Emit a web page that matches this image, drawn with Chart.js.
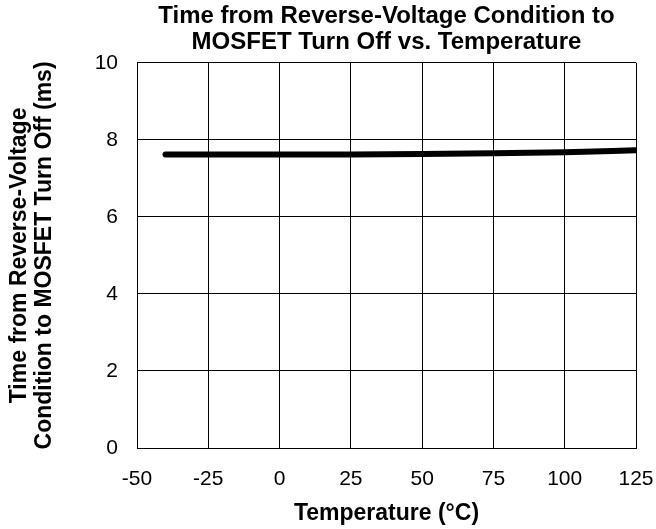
<!DOCTYPE html>
<html>
<head>
<meta charset="utf-8">
<script src="https://cdn.jsdelivr.net/npm/chart.js@4"></script>
<style>
  html, body { margin: 0; padding: 0; background: #fff; }
  #wrap { width: 656px; height: 529px; }
</style>
</head>
<body>
<div id="wrap"><canvas id="chart" width="656" height="529"></canvas></div>
<script>
// Data
const temps = [-40, -25, 0, 25, 50, 75, 100, 125];
const offTimes = [7.62, 7.62, 7.62, 7.62, 7.63, 7.65, 7.68, 7.73];
const xTicks = [-50, -25, 0, 25, 50, 75, 100, 125];
const yTicks = [0, 2, 4, 6, 8, 10];

const fontFamily = "'Liberation Sans', Arial, sans-serif";

const points = temps.map((t, i) => ({ x: t, y: offTimes[i] }));

new Chart(document.getElementById("chart").getContext("2d"), {
  type: "line",
  data: {
    datasets: [
      {
        data: points,
        borderColor: "#000",
        borderWidth: 6,
        borderCapStyle: "round",
        pointRadius: 0,
        tension: 0.4,
        cubicInterpolationMode: "monotone",
        fill: false,
      },
    ],
  },
  options: {
    responsive: false,
    animation: false,
    layout: { padding: { left: 0, right: 20, top: 3, bottom: 0 } },
    plugins: {
      legend: { display: false },
      tooltip: { enabled: false },
      title: {
        display: true,
        fullSize: false,
        text: ["Time from Reverse-Voltage Condition to", "MOSFET Turn Off vs. Temperature"],
        color: "#000",
        font: { family: fontFamily, size: 24, weight: "bold", lineHeight: 1.08 },
        padding: { top: 0, bottom: 8 },
      },
    },
    scales: {
      x: {
        type: "linear",
        min: -50,
        max: 125,
        afterBuildTicks: (axis) => {
          axis.ticks = xTicks.map((v) => ({ value: v }));
        },
        afterFit: (axis) => {
          axis.height = 81;
          axis.paddingLeft = 0;
          axis.paddingRight = 0;
        },
        grid: { color: "#000", lineWidth: 1, drawTicks: false },
        border: { color: "#000", width: 1 },
        ticks: {
          color: "#000",
          padding: 19,
          maxRotation: 0,
          font: { family: fontFamily, size: 21 },
        },
        title: {
          display: true,
          text: "Temperature (°C)",
          color: "#000",
          font: { family: fontFamily, size: 23, weight: "bold" },
          padding: { top: 0, bottom: 2 },
        },
      },
      y: {
        min: 0,
        max: 10,
        afterBuildTicks: (axis) => {
          axis.ticks = yTicks.map((v) => ({ value: v }));
        },
        afterFit: (axis) => {
          axis.width = 137;
        },
        grid: { color: "#000", lineWidth: 1, drawTicks: false },
        border: { color: "#000", width: 1 },
        ticks: {
          color: "#000",
          padding: 19,
          font: { family: fontFamily, size: 21 },
        },
        title: {
          display: true,
          text: ["Time from Reverse-Voltage", "Condition to MOSFET Turn Off (ms)"],
          color: "#000",
          font: { family: fontFamily, size: 23, weight: "bold", lineHeight: 1.09 },
          padding: { top: 7.5, bottom: 0 },
        },
      },
    },
  },
});
</script>
</body>
</html>
